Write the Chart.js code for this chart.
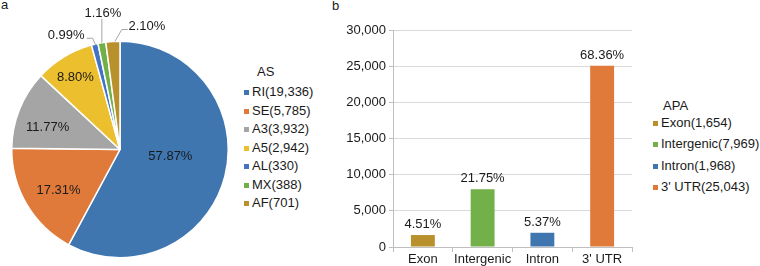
<!DOCTYPE html>
<html lang="en">
<head>
<meta charset="UTF-8" />
<title>AS and APA events</title>
<script src="https://cdn.jsdelivr.net/npm/chart.js@4.4.0/dist/chart.umd.min.js"></script>
<style>
  body { margin: 0; width: 760px; height: 266px; position: relative; overflow: hidden; background: #fff;
         font-family: "Liberation Sans", Arial, sans-serif; color: #1a1a1a; }
  canvas { position: absolute; top: 0; }
  .panel { position: absolute; font-size: 13px; line-height: 13px; }
  .leg { position: absolute; font-size: 13px; line-height: 14px; white-space: nowrap; }
  .box { position: absolute; width: 5px; height: 5px; top: 5px; left: 0; }
</style>
</head>
<body>
<div class="panel" style="left:1px;top:-2px">a</div>
<div class="panel" style="left:332px;top:-1px">b</div>
<canvas id="pie" width="244" height="266" style="left:0"></canvas>
<canvas id="bar" width="310" height="266" style="left:330px"></canvas>
<div id="legends"></div>
<script>
// panel a: alternative splicing events
const asTypes = ['RI', 'SE', 'A3', 'A5', 'AL', 'MX', 'AF'];
const asCounts = [19336, 5785, 3932, 2942, 330, 388, 701];
const asPercents = ['57.87%', '17.31%', '11.77%', '8.80%', '0.99%', '1.16%', '2.10%'];
const asColors = ['#3f76b0', '#e07a3a', '#a5a5a5', '#ecbf2e', '#4472c4', '#70b047', '#b8912d'];

// panel b: poly(A) site locations
const apaRegions = ['Exon', 'Intergenic', 'Intron', "3' UTR"];
const apaCounts = [1654, 7969, 1968, 25043];
const apaPercents = ['4.51%', '21.75%', '5.37%', '68.36%'];
const apaColors = ['#b8912d', '#72b04a', '#3f76b0', '#e07a3a'];
const yTicks = [0, 5000, 10000, 15000, 20000, 25000, 30000];

const FONT = '13px "Liberation Sans", Arial, sans-serif';
const fmt = v => v.toLocaleString('en-US');

// label placement for the pie (inside: radius fraction + nudge, outside: offset from rim + leader)
const pieLabelSpec = [
  { f: 0.48, dx: 0, dy: -6 },
  { f: 0.67, dx: 1, dy: 4 },
  { f: 0.70, dx: -2, dy: 6 },
  { f: 0.78, dx: -1, dy: 0 },
  { out: [-28.5, -9], leader: [[1, 1], [-2, -6], [-8, -6]] },
  { out: [1, -29.5], leader: [[0, 0], [0, -24]] },
  { out: [34, -15], leader: [[2, 0], [9, -12], [15, -12]] }
];

const pieLabels = {
  id: 'pieLabels',
  afterDatasetsDraw(chart) {
    const ctx = chart.ctx;
    const meta = chart.getDatasetMeta(0);
    ctx.save();
    ctx.font = FONT;
    ctx.fillStyle = '#1a1a1a';
    ctx.textAlign = 'center';
    ctx.textBaseline = 'middle';
    meta.data.forEach((arc, i) => {
      const p = arc.getProps(['x', 'y', 'startAngle', 'endAngle', 'outerRadius'], true);
      const mid = (p.startAngle + p.endAngle) / 2;
      const c = Math.cos(mid), s = Math.sin(mid);
      const spec = pieLabelSpec[i];
      if (!spec.out) {
        ctx.fillText(asPercents[i], p.x + c * p.outerRadius * spec.f + spec.dx,
                     p.y + s * p.outerRadius * spec.f + spec.dy);
        return;
      }
      const ex = p.x + c * p.outerRadius, ey = p.y + s * p.outerRadius;
      ctx.strokeStyle = '#a6a6a6';
      ctx.lineWidth = 1;
      ctx.beginPath();
      spec.leader.forEach((pt, k) => {
        if (k === 0) ctx.moveTo(ex + pt[0], ey + pt[1]);
        else ctx.lineTo(ex + pt[0], ey + pt[1]);
      });
      ctx.stroke();
      ctx.fillText(asPercents[i], ex + spec.out[0], ey + spec.out[1]);
    });
    ctx.restore();
  }
};

new Chart(document.getElementById('pie'), {
  type: 'pie',
  data: {
    labels: asTypes,
    datasets: [{ data: asCounts, backgroundColor: asColors, borderColor: '#fff', borderWidth: 1.5 }]
  },
  options: {
    responsive: false,
    animation: false,
    layout: { padding: { left: 11, right: 15, top: 40, bottom: 7 } },
    plugins: { legend: { display: false }, tooltip: { enabled: false } }
  },
  plugins: [pieLabels]
});

const barLabels = {
  id: 'barLabels',
  afterDatasetsDraw(chart) {
    const ctx = chart.ctx;
    ctx.save();
    ctx.font = FONT;
    ctx.fillStyle = '#1a1a1a';
    ctx.textAlign = 'center';
    ctx.textBaseline = 'middle';
    chart.getDatasetMeta(0).data.forEach((bar, i) => {
      ctx.fillText(apaPercents[i], bar.x, bar.y - 10.5);
    });
    ctx.restore();
  }
};

new Chart(document.getElementById('bar'), {
  type: 'bar',
  data: {
    labels: apaRegions,
    datasets: [{ data: apaCounts, backgroundColor: apaColors, barPercentage: 0.4, categoryPercentage: 1 }]
  },
  options: {
    responsive: false,
    animation: false,
    layout: { padding: { top: 30, right: 8, left: 0, bottom: 0 } },
    plugins: { legend: { display: false }, tooltip: { enabled: false } },
    scales: {
      x: {
        grid: { drawOnChartArea: false, drawTicks: true, tickLength: 5, color: '#bfbfbf', offset: true },
        border: { color: '#bfbfbf' },
        ticks: { color: '#1a1a1a', font: { family: '"Liberation Sans", Arial, sans-serif', size: 13 },
                 padding: 0, maxRotation: 0, autoSkip: false },
        afterFit(scale) { scale.height = 19; }
      },
      y: {
        min: yTicks[0],
        max: yTicks[yTicks.length - 1],
        afterBuildTicks(scale) { scale.ticks = yTicks.map(v => ({ value: v })); },
        grid: { color: '#d9d9d9', tickLength: 4, tickColor: '#bfbfbf' },
        border: { color: '#bfbfbf' },
        ticks: { color: '#1a1a1a', font: { family: '"Liberation Sans", Arial, sans-serif', size: 13 }, padding: 3, callback: v => fmt(v) },
        afterFit(scale) { scale.width = 63; }
      }
    }
  },
  plugins: [barLabels]
});

// legends as HTML text
function legend(title, titlePos, names, counts, colors, boxX, y0, step) {
  const host = document.getElementById('legends');
  let t = document.createElement('div');
  t.className = 'leg';
  t.style.left = titlePos[0] + 'px';
  t.style.top = (titlePos[1] - 7) + 'px';
  t.textContent = title;
  host.appendChild(t);
  names.forEach((n, i) => {
    const d = document.createElement('div');
    d.className = 'leg';
    d.style.left = boxX + 'px';
    d.style.top = (y0 + i * step - 7) + 'px';
    d.style.paddingLeft = '8px';
    d.innerHTML = '<span class="box" style="background:' + colors[i] + '"></span>';
    d.appendChild(document.createTextNode(n + '(' + fmt(counts[i]) + ')'));
    host.appendChild(d);
  });
}
legend('AS', [257, 72], asTypes, asCounts, asColors, 244, 92.3, 18.5);
legend('APA', [663, 106], apaRegions, apaCounts, apaColors, 653, 123.3, 21.1);
</script>
</body>
</html>
